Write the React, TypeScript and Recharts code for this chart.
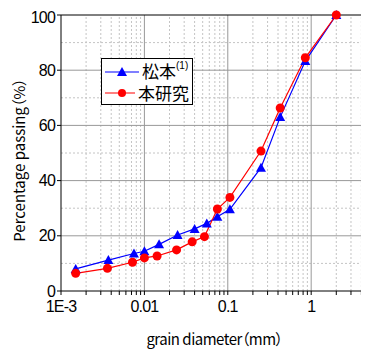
import React from "react";
import { LineChart, Line, XAxis, YAxis, ReferenceLine, Label } from "recharts";

// 粒径加積曲線 — 松本(1) vs 本研究
const matsumotoSize = [0.0015, 0.0037, 0.0075, 0.01, 0.015, 0.025, 0.04, 0.056, 0.075, 0.106, 0.25, 0.425, 0.85, 2];
const matsumotoPass = [8.0, 11.2, 13.6, 14.4, 16.9, 20.3, 22.5, 24.5, 26.9, 29.6, 44.7, 63.0, 83.3, 100];
const thisStudySize = [0.0015, 0.0036, 0.0072, 0.01, 0.0142, 0.0243, 0.0374, 0.0525, 0.075, 0.106, 0.25, 0.425, 0.85, 2];
const thisStudyPass = [6.4, 8.2, 10.4, 12.0, 12.7, 14.9, 17.8, 19.7, 29.7, 33.9, 50.7, 66.3, 84.5, 100];

const xMajor = [0.001, 0.01, 0.1, 1];
const xMinor = [
  0.002, 0.003, 0.004, 0.005, 0.006, 0.007, 0.008, 0.009,
  0.02, 0.03, 0.04, 0.05, 0.06, 0.07, 0.08, 0.09,
  0.2, 0.3, 0.4, 0.5, 0.6, 0.7, 0.8, 0.9,
  2, 3, 4,
];
const yMajor = [0, 20, 40, 60, 80, 100];
const yMinor = [10, 30, 50, 70, 90];

const matsumoto = matsumotoSize.map((x, i) => ({ x, y: matsumotoPass[i] }));
const thisStudy = thisStudySize.map((x, i) => ({ x, y: thisStudyPass[i] }));

const NUM_FONT = "'Liberation Sans', Arial, sans-serif";
const JP_FONT = "'Noto Sans CJK JP', sans-serif";

const Triangle = (props: any) => {
  const { cx, cy } = props;
  if (cx == null || cy == null) return null;
  return <path d={`M${cx},${cy - 5} L${cx + 5},${cy + 4} L${cx - 5},${cy + 4} Z`} fill="#0000ff" />;
};

const Dot = (props: any) => {
  const { cx, cy } = props;
  if (cx == null || cy == null) return null;
  return <circle cx={cx} cy={cy} r={4.5} fill="#ff0000" />;
};

const fmtX = (v: number) => (v === 0.001 ? "1E-3" : xMajor.includes(v) ? String(v) : "");

const LegendBox = () => (
  <div style={{
    position: "absolute", left: 93, top: 50, width: 92, height: 47, boxSizing: "border-box",
    border: "1px solid #000", background: "#fff", padding: "1px 3px",
    fontFamily: JP_FONT, fontSize: 17, lineHeight: "18px", whiteSpace: "nowrap",
  }}>
    <div style={{ display: "flex", alignItems: "center", height: 22 }}>
      <svg width={34} height={14}>
        <line x1={0} y1={8} x2={34} y2={8} stroke="#0000ff" strokeWidth={1.2} />
        <path d="M17,3 L22,12 L12,12 Z" fill="#0000ff" />
      </svg>
      <span style={{ marginLeft: 3 }}>松本</span>
      <span style={{ fontSize: 10, lineHeight: "10px", fontFamily: NUM_FONT, alignSelf: "flex-start", marginTop: 1 }}>(1)</span>
    </div>
    <div style={{ display: "flex", alignItems: "center", height: 22 }}>
      <svg width={34} height={14}>
        <line x1={0} y1={7} x2={34} y2={7} stroke="#ff0000" strokeWidth={1.2} />
        <circle cx={17} cy={7} r={4} fill="#ff0000" />
      </svg>
      <span style={{ marginLeft: 3 }}>本研究</span>
    </div>
  </div>
);

export default function App() {
  return (
    <div style={{ position: "relative", width: 361, height: 341 }}>
      <LineChart width={361} height={341} margin={{ top: 7, right: 1, left: 0, bottom: 0 }}>
        <XAxis
          dataKey="x"
          type="number"
          scale="log"
          domain={[0.001, 4.8]}
          allowDataOverflow
          ticks={[...xMajor, ...xMinor].sort((a, b) => a - b)}
          interval={0}
          tickFormatter={fmtX}
          height={58}
          tickSize={4}
          tickMargin={6}
          stroke="#000"
          tick={{ fill: "#000", fontSize: 16, fontFamily: NUM_FONT, letterSpacing: -0.8 }}
        >
          <Label value="grain diameter（mm）" position="insideBottom" offset={4}
            style={{ fill: "#000", fontSize: 15, fontFamily: JP_FONT, letterSpacing: -0.5, fontFeatureSettings: '"palt"' }} />
        </XAxis>
        <YAxis
          type="number"
          domain={[0, 100]}
          ticks={yMajor}
          width={53}
          tickSize={4}
          tickMargin={2}
          stroke="#000"
          tick={{ fill: "#000", fontSize: 16, fontFamily: NUM_FONT, letterSpacing: -0.8 }}
        >
          <Label
            content={() => (
              <text x={10} y={152} transform="rotate(-90 10 152)" textAnchor="middle" dominantBaseline="central"
                style={{ fill: "#000", fontSize: 15, fontFamily: JP_FONT, fontFeatureSettings: '"palt"' }}>
                Percentage passing（%）
              </text>
            )}
          />
        </YAxis>

        {xMinor.map((v) => (
          <ReferenceLine key={`xm${v}`} x={v} stroke="#c4c4c4" strokeDasharray="2 2" />
        ))}
        {yMinor.map((v) => (
          <ReferenceLine key={`ym${v}`} y={v} stroke="#c4c4c4" strokeDasharray="2 2" />
        ))}
        {xMajor.slice(1).map((v) => (
          <ReferenceLine key={`xM${v}`} x={v} stroke="#999" />
        ))}
        {yMajor.slice(1, -1).map((v) => (
          <ReferenceLine key={`yM${v}`} y={v} stroke="#999" />
        ))}
        <ReferenceLine y={100} stroke="#000" />

        <Line data={matsumoto} dataKey="y" name="松本(1)" stroke="#0000ff" strokeWidth={1.2}
          dot={<Triangle />} activeDot={false} isAnimationActive={false} />
        <Line data={thisStudy} dataKey="y" name="本研究" stroke="#ff0000" strokeWidth={1.2}
          dot={<Dot />} activeDot={false} isAnimationActive={false} />
      </LineChart>
      <LegendBox />
    </div>
  );
}
